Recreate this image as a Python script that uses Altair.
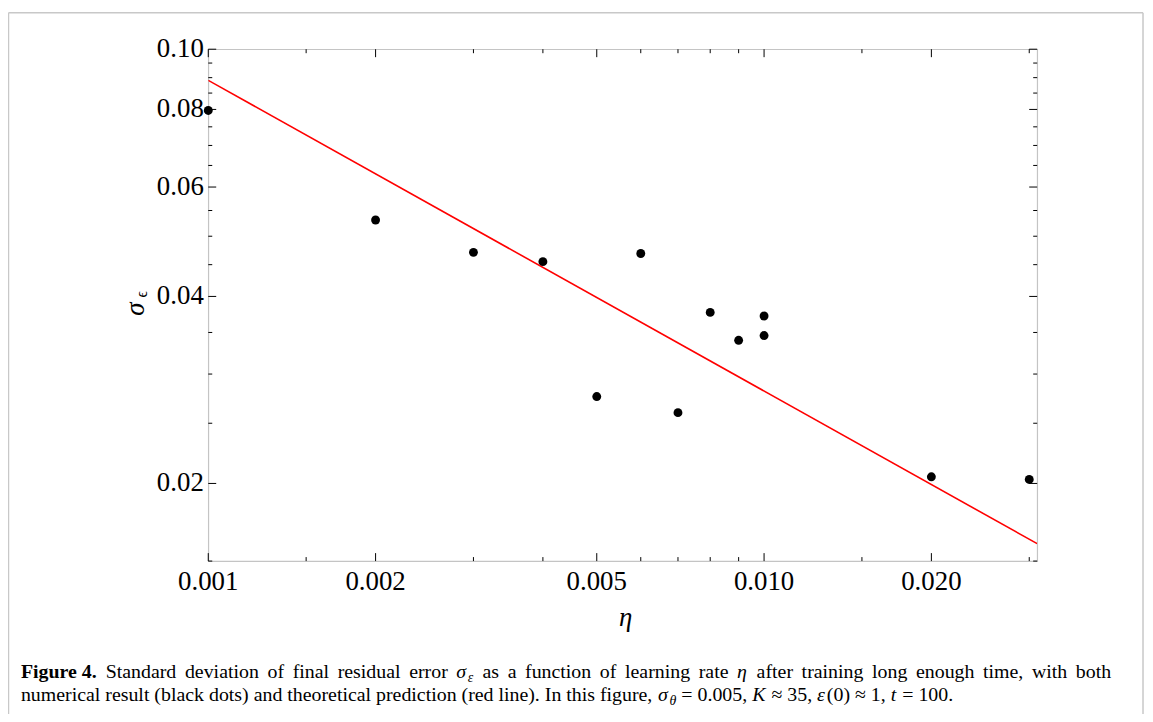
import altair as alt
import pandas as pd

# ---- data ----
eta = [0.001, 0.002, 0.003, 0.004, 0.005, 0.006, 0.007, 0.008, 0.009, 0.010, 0.010, 0.020, 0.030]
sigma = [0.0797, 0.0531, 0.0471, 0.0455, 0.0276, 0.0469, 0.0260, 0.0377, 0.0340, 0.0372, 0.0346, 0.0205, 0.0203]

line_eta = [0.001, 0.031]
line_sigma = [0.0891, 0.0160]

x_major = [0.001, 0.002, 0.005, 0.010, 0.020]
x_major_labels = ["0.001", "0.002", "0.005", "0.010", "0.020"]
x_minor = [0.0015, 0.003, 0.004, 0.006, 0.007, 0.008, 0.009, 0.015, 0.030]
y_major = [0.02, 0.04, 0.06, 0.08, 0.10]
y_major_labels = ["0.02", "0.04", "0.06", "0.08", "0.10"]
y_minor = [0.015, 0.025, 0.03, 0.035, 0.045, 0.05, 0.055, 0.065, 0.07, 0.075, 0.085, 0.09, 0.095]

# caption tokens: "a|b" = italic a with subscript b, "*w" = italic word, "+w" = glued to previous token
caption_line1 = ["Standard", "deviation", "of", "final", "residual", "error", "σ|ε", "as", "a",
                 "function", "of", "learning", "rate", "*η", "after", "training", "long",
                 "enough", "time,", "with", "both"]
caption_line2 = ["numerical result (black dots) and theoretical prediction (red line). In this figure,",
                 "σ|θ", "=", "0.005,", "*K", "≈", "35,", "*ε", "+(0)", "≈", "1,", "*t", "=", "100."]

W, H = 834, 515
SERIF = "Liberation Serif"
FS = 27       # tick label size
CS = 20       # caption size

xs = alt.Scale(type="log", domain=[0.001, 0.031], nice=False)
ys = alt.Scale(type="log", domain=[0.015, 0.1], nice=False)

pts = pd.DataFrame({"eta": eta, "sigma": sigma})
ln = pd.DataFrame({"eta": line_eta, "sigma": line_sigma})

points = alt.Chart(pts).mark_circle(size=80, color="black", opacity=1).encode(
    x=alt.X("eta:Q", scale=xs, axis=None),
    y=alt.Y("sigma:Q", scale=ys, axis=None),
)

line = alt.Chart(ln).mark_line(color="#ff0000", strokeWidth=1.6, clip=True).encode(
    x=alt.X("eta:Q", scale=xs, axis=None),
    y=alt.Y("sigma:Q", scale=ys, axis=None),
)

def xticks(vals, length):
    d = pd.DataFrame({"v": vals})
    bot = alt.Chart(d).mark_rule(color="black", strokeWidth=1).encode(
        x=alt.X("v:Q", scale=xs, axis=None), y=alt.value(H), y2=alt.value(H - length))
    top = alt.Chart(d).mark_rule(color="black", strokeWidth=1).encode(
        x=alt.X("v:Q", scale=xs, axis=None), y=alt.value(0), y2=alt.value(length))
    return [bot, top]

def yticks(vals, length):
    d = pd.DataFrame({"v": vals})
    left = alt.Chart(d).mark_rule(color="black", strokeWidth=1).encode(
        y=alt.Y("v:Q", scale=ys, axis=None), x=alt.value(0), x2=alt.value(length))
    right = alt.Chart(d).mark_rule(color="black", strokeWidth=1).encode(
        y=alt.Y("v:Q", scale=ys, axis=None), x=alt.value(W), x2=alt.value(W - length))
    return [left, right]

# tick labels drawn through the scales
xlab = alt.Chart(pd.DataFrame({"v": x_major, "t": x_major_labels})).mark_text(
    font=SERIF, fontSize=FS, align="center", baseline="alphabetic", color="black").encode(
    x=alt.X("v:Q", scale=xs, axis=None), y=alt.value(544), text="t:N")
ylab = alt.Chart(pd.DataFrame({"v": y_major, "t": y_major_labels})).mark_text(
    font=SERIF, fontSize=FS, align="right", baseline="alphabetic", dy=8, color="black").encode(
    y=alt.Y("v:Q", scale=ys, axis=None), x=alt.value(-4.5), text="t:N")

one = pd.DataFrame({"a": [0]})

def txt(s, x, y, size, style="normal", weight="normal", angle=0, align="left", baseline="alphabetic"):
    kw = dict(font=SERIF, fontSize=size, fontStyle=style, fontWeight=weight,
              align=align, baseline=baseline, color="black")
    if angle:
        kw["angle"] = angle
    return alt.Chart(one).mark_text(**kw).encode(
        x=alt.value(x), y=alt.value(y), text=alt.value(s))

# Times-metric advance widths (1/1000 em) for laying out the caption words
TW = {" ": 250, "(": 333, ")": 333, ",": 250, ".": 250, "=": 564, "≈": 549,
      "a": 444, "b": 500, "c": 444, "d": 500, "e": 444, "f": 333, "g": 500, "h": 500, "i": 278,
      "j": 278, "k": 500, "l": 278, "m": 778, "n": 500, "o": 500, "p": 500, "q": 500, "r": 333,
      "s": 389, "t": 278, "u": 500, "v": 500, "w": 722, "x": 500, "y": 500, "z": 444,
      "I": 333, "K": 667, "S": 556, "F": 556,
      "σ": 550, "ε": 440, "θ": 500, "η": 500}
for dgt in "0123456789":
    TW[dgt] = 500

def tw(s, size):
    return sum(TW.get(c, 500) for c in s) * size / 1000.0

def word_marks(word, x, y, size):
    """return (marks, width) for one caption token"""
    if word.startswith("+"):
        word = word[1:]
    if "|" in word:
        base, sub = word.split("|")
        m = [txt(base, x, y, size, style="italic"),
             txt(sub, x + tw(base, size) + 0.5, y + 4, size * 0.7, style="italic")]
        return m, tw(base, size) + 0.5 + tw(sub, size * 0.7)
    if word.startswith("*"):
        w = word[1:]
        return [txt(w, x, y, size, style="italic")], tw(w, size) + 1
    return [txt(word, x, y, size)], tw(word, size)

OX = 209.5   # page x of the plot's left edge
L1 = 680 - 47.3
L2 = 703 - 47.3
X0 = 21 - OX
X1 = 1118 - OX

cap = [txt("Figure 4.", X0, L1, CS, weight="bold")]
fig_w = (611 + 278 + 500 + 556 + 444 + 444 + 250 + 500 + 250) * CS / 1000.0
# line 1 justified to the full width
widths = [word_marks(w, 0, 0, CS)[1] for w in caption_line1]
gap = (X1 - X0 - fig_w - sum(widths)) / len(caption_line1)
x = X0 + fig_w + gap
for w in caption_line1:
    m, wd = word_marks(w, x, L1, CS)
    cap += m
    x += wd + gap
# line 2 natural spacing
x = X0
first = True
for w in caption_line2:
    if not first and not w.startswith("+"):
        x += 0.25 * CS
    first = False
    m, wd = word_marks(w, x, L2, CS)
    cap += m
    x += wd

# figure border (top, left, right), light gray
border = [
    alt.Chart(one).mark_rule(color="#c8c8c8", strokeWidth=1.5).encode(
        x=alt.value(-201), x2=alt.value(940.5), y=alt.value(-36.6)),
    alt.Chart(one).mark_rule(color="#c8c8c8", strokeWidth=1.5).encode(
        x=alt.value(-201), y=alt.value(-36.6), y2=alt.value(670)),
    alt.Chart(one).mark_rule(color="#c8c8c8", strokeWidth=1.5).encode(
        x=alt.value(940.5), y=alt.value(-36.6), y2=alt.value(670)),
]

# axis titles
y_sig = txt("σ", -64.5, 261.5, 27, style="italic", angle=270, align="center")
y_eps = txt("ϵ", -61.5, 246.5, 16, angle=270, align="center")
x_eta = txt("η", 420, 580, 27, style="italic", align="center")

layers = [line, points] + xticks(x_major, 8) + xticks(x_minor, 4) + yticks(y_major, 8) + yticks(y_minor, 4) \
    + [xlab, ylab] + border + [y_sig, y_eps, x_eta] + cap

chart = alt.layer(*layers).properties(
    width=W, height=H,
    background="white",
    autosize=alt.AutoSizeParams(type="none"),
    padding={"left": 201.5, "top": 39.3, "right": 108.5, "bottom": 151.5},
).configure_view(stroke="#c4c4c4", strokeWidth=1.2)

chart.save("out.html", embed_options={"renderer": "svg", "actions": False})
